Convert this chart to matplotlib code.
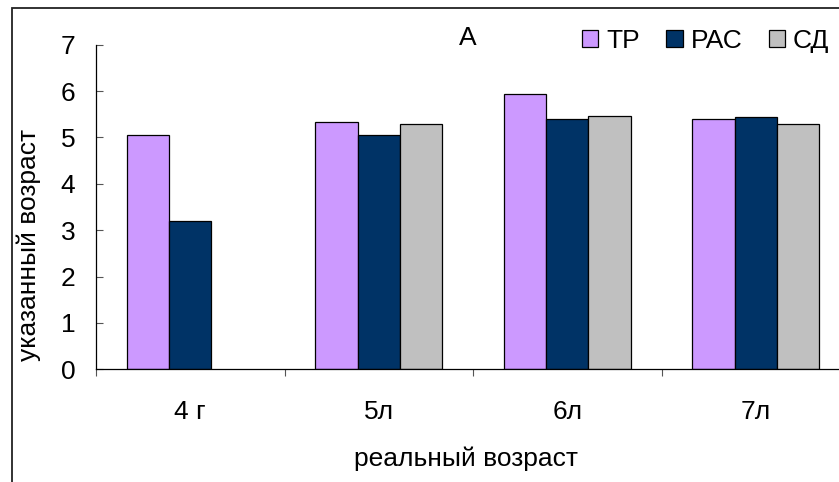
import matplotlib
matplotlib.use('Agg')
import matplotlib.pyplot as plt
import numpy as np
from matplotlib.patches import Rectangle

categories = ['4 г', '5л', '6л', '7л']
series_names = ['ТР', 'РАС', 'СД']
tr_values = [5.06, 5.34, 5.93, 5.40]
pac_values = [3.20, 5.05, 5.40, 5.44]
sd_values = [np.nan, 5.28, 5.47, 5.29]
colors = ['#CC99FF', '#003366', '#C0C0C0']
yticks = [0, 1, 2, 3, 4, 5, 6, 7]

plt.rcParams['font.family'] = ['Liberation Sans', 'DejaVu Sans']
FS = 19

W, H = 839, 482
fig = plt.figure(figsize=(W / 100, H / 100), dpi=100)

# outer chart border (cropped on right and bottom)
fig.add_artist(Rectangle((12 / W, -0.05), 1.2, 1 - 8 / H + 0.05,
                         transform=fig.transFigure, fill=False,
                         edgecolor='#222222', linewidth=1.3))

ax_l, ax_r = 96, 850
ax_t, ax_b = 44.7, 369.3
ax = fig.add_axes([ax_l / W, 1 - ax_b / H, (ax_r - ax_l) / W, (ax_b - ax_t) / H])

x = np.arange(len(categories))
bw = 0.224
series = [tr_values, pac_values, sd_values]
handles = []
for i, (vals, c) in enumerate(zip(series, colors)):
    b = ax.bar(x + (i - 1) * bw, vals, width=bw, color=c, edgecolor='black',
               linewidth=0.9, label=series_names[i])
    handles.append(b)

ax.set_xlim(-0.5, len(categories) - 0.5)
ax.set_ylim(0, 7)
ax.set_yticks(yticks)
ax.set_yticklabels([str(v) for v in yticks])
ax.tick_params(axis='y', direction='in', length=5, width=0.8, color='#555555',
               labelsize=FS, pad=15)

# category boundary ticks (outward) with labels at centers
ax.set_xticks(np.arange(len(categories) + 1) - 0.5)
ax.set_xticklabels([])
ax.set_xticks(x, minor=True)
ax.set_xticklabels(categories, minor=True)
ax.tick_params(axis='x', which='major', direction='out', length=5, width=0.8,
               color='#555555')
ax.tick_params(axis='x', which='minor', length=0, labelsize=FS, pad=22)

for s in ['top', 'right']:
    ax.spines[s].set_visible(False)
ax.spines['left'].set_color('black')
ax.spines['bottom'].set_color('black')
ax.spines['left'].set_linewidth(0.9)
ax.spines['bottom'].set_linewidth(0.9)

fig.text(466 / W, 1 - 459 / H, 'реальный возраст', fontsize=FS,
         ha='center', va='center')
fig.text(29 / W, 1 - 245 / H, 'указанный возраст', fontsize=FS,
         ha='center', va='center', rotation=90)
fig.text(468 / W, 1 - 38 / H, 'А', fontsize=FS, ha='center', va='center')

leg = ax.legend(handles=handles, labels=series_names, loc='upper left',
                bbox_to_anchor=(582 / W, 1 - 29 / H),
                bbox_transform=fig.transFigure, ncol=3, frameon=False,
                fontsize=FS, handlelength=0.62, handleheight=0.62,
                handletextpad=0.3, columnspacing=1.0, borderpad=0,
                borderaxespad=0)

fig.savefig('out.png', dpi=100)
